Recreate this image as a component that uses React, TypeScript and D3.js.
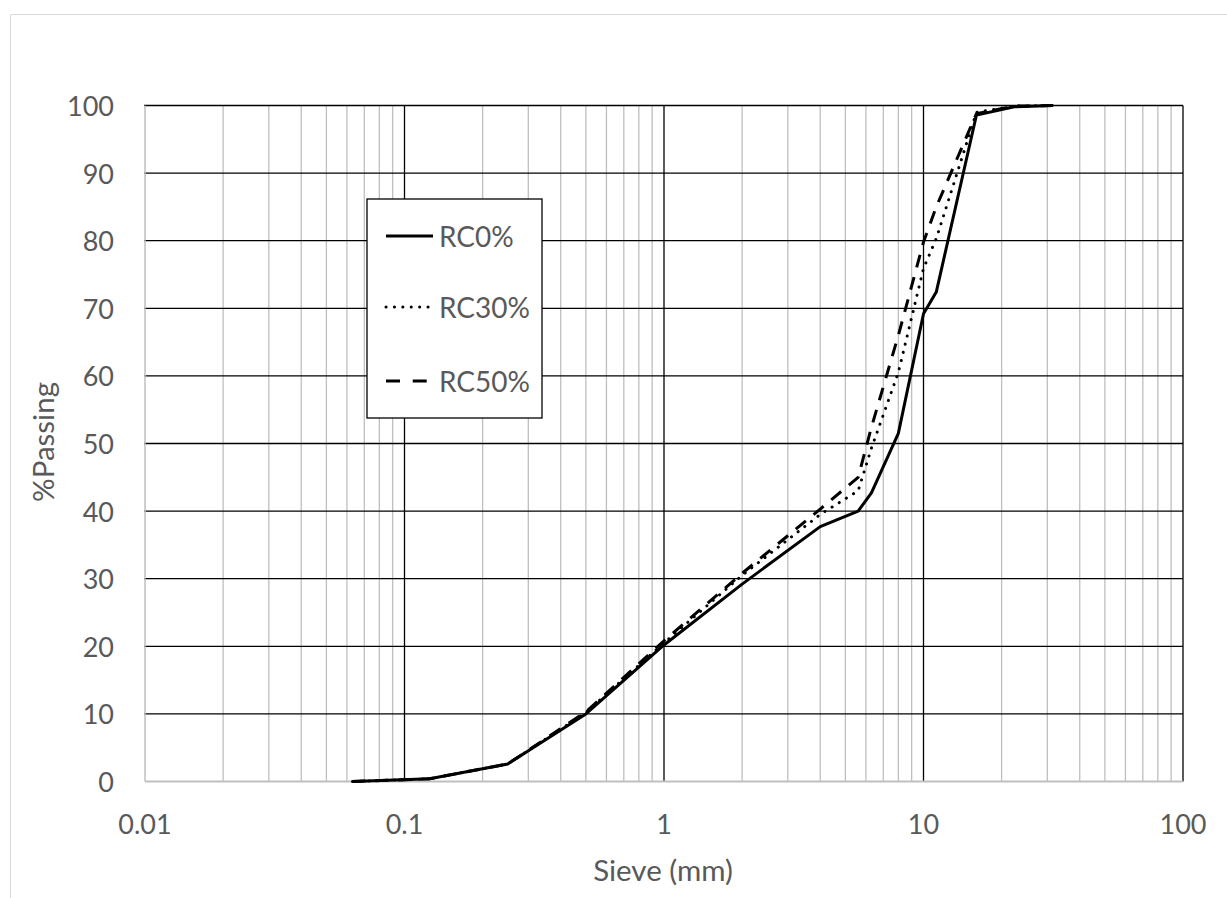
import React from "react";
import * as d3 from "d3";

const sieves = [0.063, 0.125, 0.25, 0.5, 1, 2, 4, 5.6, 6.3, 8, 10, 11.2, 16, 22.4, 31.5];
const rc0 = [0, 0.4, 2.6, 10, 20.2, 29.2, 37.7, 40, 42.7, 51.5, 69.2, 72.4, 98.6, 99.8, 100];
const rc30 = [0, 0.4, 2.6, 10.2, 20.5, 30.5, 39.5, 43, 49.3, 60.5, 75.9, 80.3, 99, 99.9, 100];
const rc50 = [0, 0.4, 2.6, 10.3, 20.8, 30.8, 40.3, 45, 52.4, 66, 79.8, 85, 98.8, 99.9, 100];
const seriesNames = ["RC0%", "RC30%", "RC50%"];
const xTicks = [0.01, 0.1, 1, 10, 100];
const xTickLabels = ["0.01", "0.1", "1", "10", "100"];
const yTicks = [0, 10, 20, 30, 40, 50, 60, 70, 80, 90, 100];

const W = 1227;
const H = 898;
const FONT = "Lato, 'Open Sans', sans-serif";
const TXT = "#595959";

export default function App() {
  const x = d3.scaleLog().domain([0.01, 100]).range([145, 1183]);
  const y = d3.scaleLinear().domain([0, 100]).range([781.5, 105.5]);

  const minor: number[] = [];
  for (let p = -2; p < 2; p++) {
    for (let m = 2; m <= 9; m++) minor.push(m * Math.pow(10, p));
  }

  const line = d3
    .line<[number, number]>()
    .x((d) => x(d[0]))
    .y((d) => y(d[1]));

  const series = [rc0, rc30, rc50].map((vals) =>
    line(sieves.map((s, i) => [s, vals[i]] as [number, number]))
  );

  const styles = [
    { dash: undefined as string | undefined, cap: "butt" as const },
    { dash: "0.1 8.3", cap: "round" as const },
    { dash: "13 10", cap: "butt" as const },
  ];

  const legendY = [236, 307, 381];

  return (
    <svg
      width={W}
      height={H}
      style={{ position: "absolute", left: 0, top: 0, background: "#fff" }}
    >
      <rect x={0} y={0} width={W} height={H} fill="#fff" />
      {/* outer chart border */}
      <line x1={10.5} y1={14.5} x2={W} y2={14.5} stroke="#d9d9d9" strokeWidth={1} />
      <line x1={10.5} y1={14.5} x2={10.5} y2={H} stroke="#d9d9d9" strokeWidth={1} />

      {/* minor vertical gridlines */}
      {minor.map((v, i) => (
        <line
          key={"mn" + i}
          x1={x(v)}
          x2={x(v)}
          y1={y(100)}
          y2={y(0)}
          stroke="#bfbfbf"
          strokeWidth={1.3}
        />
      ))}
      {/* major horizontal gridlines */}
      {yTicks
        .filter((t) => t > 0)
        .map((t) => (
          <line
            key={"hy" + t}
            x1={x(0.01) - 1}
            x2={x(100)}
            y1={y(t)}
            y2={y(t)}
            stroke="#000"
            strokeWidth={1.3}
          />
        ))}
      {/* major vertical gridlines */}
      {xTicks
        .filter((t) => t > 0.01)
        .map((t) => (
          <line
            key={"vx" + t}
            x1={x(t)}
            x2={x(t)}
            y1={y(100)}
            y2={y(0)}
            stroke="#000"
            strokeWidth={1.3}
          />
        ))}
      {/* axis lines */}
      <line x1={x(0.01)} x2={x(0.01)} y1={y(100)} y2={y(0)} stroke="#bfbfbf" strokeWidth={1.5} />
      <line x1={x(0.01)} x2={x(100)} y1={y(0)} y2={y(0)} stroke="#bfbfbf" strokeWidth={1.8} />

      {/* series */}
      {series.map((d, i) => (
        <path
          key={"s" + i}
          d={d || ""}
          fill="none"
          stroke="#000"
          strokeWidth={3}
          strokeDasharray={styles[i].dash}
          strokeLinecap={styles[i].cap}
          strokeLinejoin="round"
        />
      ))}

      {/* y tick labels */}
      {yTicks.map((t) => (
        <text
          key={"yl" + t}
          x={114}
          y={y(t)}
          textAnchor="end"
          dominantBaseline="central"
          fontFamily={FONT}
          fontSize={27}
          fill={TXT}
        >
          {t}
        </text>
      ))}
      {/* x tick labels */}
      {xTicks.map((t, i) => (
        <text
          key={"xl" + t}
          x={x(t)}
          y={823}
          textAnchor="middle"
          dominantBaseline="central"
          fontFamily={FONT}
          fontSize={27}
          fill={TXT}
        >
          {xTickLabels[i]}
        </text>
      ))}
      {/* axis titles */}
      <text
        x={663}
        y={869}
        textAnchor="middle"
        dominantBaseline="central"
        fontFamily={FONT}
        fontSize={29.5}
        fill={TXT}
      >
        Sieve (mm)
      </text>
      <text
        transform="translate(42,442) rotate(-90)"
        textAnchor="middle"
        dominantBaseline="central"
        fontFamily={FONT}
        fontSize={29.5}
        fill={TXT}
      >
        %Passing
      </text>

      {/* legend */}
      <rect x={367} y={199} width={175} height={219} fill="#fff" stroke="#000" strokeWidth={1.3} />
      {seriesNames.map((n, i) => (
        <g key={"lg" + i}>
          <line
            x1={386}
            x2={433}
            y1={legendY[i]}
            y2={legendY[i]}
            stroke="#000"
            strokeWidth={3}
            strokeDasharray={i === 2 ? "14 12.7" : styles[i].dash}
            strokeLinecap={styles[i].cap}
          />
          <text
            x={439}
            y={legendY[i]}
            dominantBaseline="central"
            fontFamily={FONT}
            fontSize={28}
            fill={TXT}
          >
            {n}
          </text>
        </g>
      ))}
    </svg>
  );
}
